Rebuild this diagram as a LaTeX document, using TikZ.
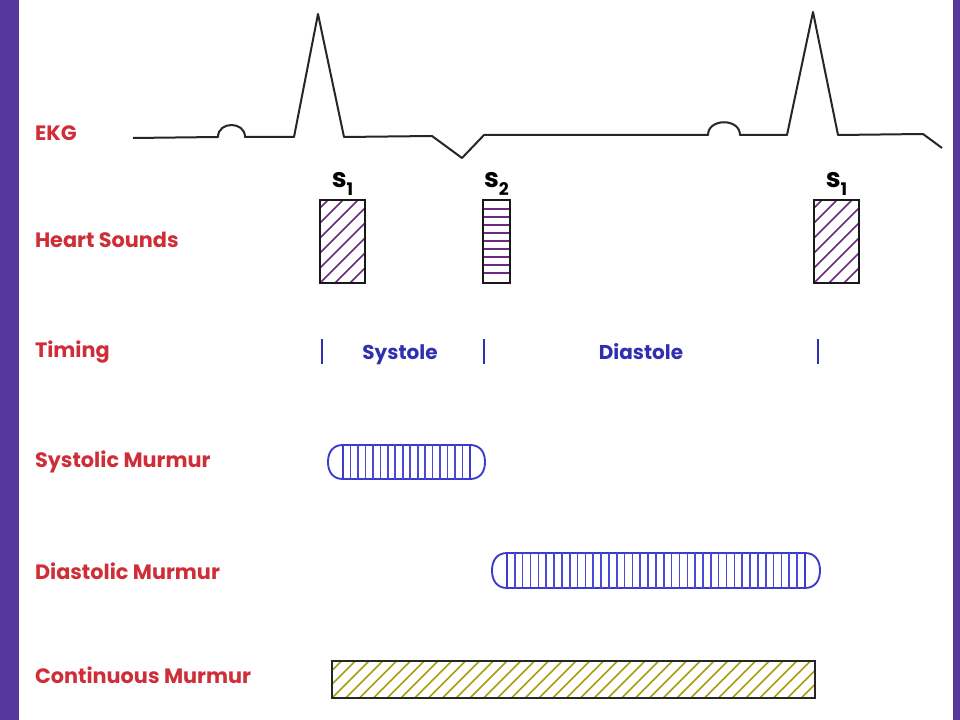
\documentclass[tikz,border=0pt]{standalone}
\usepackage{fontspec}
\setmainfont{Poppins}
\usetikzlibrary{positioning}
\usetikzlibrary{calc}
\definecolor{framepurple}{HTML}{55389C}
\definecolor{labelred}{HTML}{CF2E38}
\definecolor{phaseblue}{HTML}{2F2FB0}
\definecolor{murmblue}{HTML}{3B3BD0}
\definecolor{stripeblue}{HTML}{4A4AD4}
\definecolor{soundpurple}{HTML}{6A2A7E}
\definecolor{contyellow}{HTML}{A89E0C}
\tikzset{
	every node/.style={inner sep=0pt, outer sep=0pt, align=center},
	rowlabel/.style={anchor=base west, text=labelred, font=\fontsize{15.6}{15.6}\selectfont\bfseries},
	phase/.style={anchor=base, text=phaseblue, font=\fontsize{15}{15}\selectfont\bfseries},
	sname/.style={font=\fontsize{20}{20}\selectfont\bfseries, text=black},
	trace/.style={draw=black!85, line width=1.5pt, line join=round},
	sound/.style={draw=black!90, line width=1.1pt, minimum width=33.75pt, minimum height=62.25pt},
	hatch/.style={draw=soundpurple, line width=1.1pt},
	bar/.style={draw=soundpurple, line width=1.6pt},
	diag/.style={path picture={
		\foreach \k in {-6,...,3}
			\draw[hatch] ($(path picture bounding box.south west)+(\k*15,0)$) -- ++(100,-100);
	}},
	flat/.style={path picture={
		\foreach \k in {0,...,8}
			\draw[bar] ($(path picture bounding box.north west)+(0,9+\k*8)$) -- ++(40,0);
	}},
	tick/.style={draw=phaseblue, line width=1.4pt},
	murbody/.style={draw=murmblue, line width=1.4pt},
	murcap/.style={draw=murmblue, line width=1.4pt},
	stripe/.style={draw=stripeblue, line width=1.2pt},
	contbox/.style={draw=black!85, line width=1.2pt, path picture={
		\foreach \k in {-3,...,36}
			\draw[draw=contyellow, line width=1.2pt] ($(path picture bounding box.south west)+(\k*13.8,0)$) -- ++(50,-50);
	}}
}
\newcommand{\sublab}[1]{s\raisebox{-6pt}{\fontsize{13}{13}\selectfont #1}}
\begin{document}
\begin{tikzpicture}[x=0.75pt, y=-0.75pt]
	% page and side bars
	\useasboundingbox (0,0) rectangle (960,720);
	\fill[white] (0,0) rectangle (960,720);
	\fill[framepurple] (0,0) rectangle (19,720);
	\fill[framepurple] (953,0) rectangle (960,720);
	
	% row labels
	\node (lekg) [rowlabel] at (35,141) {EKG};
	\node (lhs) [rowlabel] at (35,248) {Heart Sounds};
	\node (ltim) [rowlabel] at (35,357) {Timing};
	\node (lsys) [rowlabel] at (35,467) {Systolic Murmur};
	\node (ldia) [rowlabel] at (35,579) {Diastolic Murmur};
	\node (lcon) [rowlabel] at (35,683) {Continuous Murmur};
	
	% EKG trace
	\draw[trace] (133,138) -- (218,137) .. controls (218,121) and (245,121) .. (245,137)
		-- (294,137) -- (318,14) -- (344,137) -- (432,136) -- (462,158) -- (484,135)
		-- (708,135) .. controls (708,118) and (740,118) .. (740,135)
		-- (787,135) -- (813,12) -- (838,135) -- (923,134) -- (942,148);
	
	% heart sounds
	\node (s1a) [sound, diag] at (342.5,241.5) {};
	\node (s2) [sound, flat, minimum width=20.25pt] at (496.5,241.5) {};
	\node (s1b) [sound, diag] at (836.5,241.5) {};
	\node (ts1a) [sname, above = 3pt of s1a] {\sublab{1}};
	\node (ts2) [sname, above = 3pt of s2] {\sublab{2}};
	\node (ts1b) [sname, above = 3pt of s1b] {\sublab{1}};
	
	% timing
	\foreach \tx in {322,484,818}
		\draw[tick] (\tx,339) -- (\tx,364);
	\node (tsys) [phase] at (400,359) {Systole};
	\node (tdia) [phase] at (641,359) {Diastole};
	
	% systolic murmur
	\node (sysm) [murbody, minimum width=95.25pt, minimum height=25.5pt] at (406.5,462) {};
	\foreach \k in {1,...,16}
		\draw[stripe] ($(sysm.north west)+(\k*7.47,0)$) -- ($(sysm.south west)+(\k*7.47,0)$);
	\draw[murcap] (sysm.north west) .. controls ($(sysm.north west)+(-10,0)$) and ($(sysm.west)+(-15,-10)$) .. ($(sysm.west)+(-15,0)$)
		.. controls ($(sysm.west)+(-15,10)$) and ($(sysm.south west)+(-10,0)$) .. (sysm.south west);
	\draw[murcap] (sysm.north east) .. controls ($(sysm.north east)+(10,0)$) and ($(sysm.east)+(15,-10)$) .. ($(sysm.east)+(15,0)$)
		.. controls ($(sysm.east)+(15,10)$) and ($(sysm.south east)+(10,0)$) .. (sysm.south east);
	
	% diastolic murmur
	\node (diam) [murbody, minimum width=223.5pt, minimum height=26.25pt] at (656,570.5) {};
	\foreach \k in {1,...,37}
		\draw[stripe] ($(diam.north west)+(\k*7.84,0)$) -- ($(diam.south west)+(\k*7.84,0)$);
	\draw[murcap] (diam.north west) .. controls ($(diam.north west)+(-10,0)$) and ($(diam.west)+(-15,-10)$) .. ($(diam.west)+(-15,0)$)
		.. controls ($(diam.west)+(-15,10)$) and ($(diam.south west)+(-10,0)$) .. (diam.south west);
	\draw[murcap] (diam.north east) .. controls ($(diam.north east)+(10,0)$) and ($(diam.east)+(15,-10)$) .. ($(diam.east)+(15,0)$)
		.. controls ($(diam.east)+(15,10)$) and ($(diam.south east)+(10,0)$) .. (diam.south east);
	
	% continuous murmur
	\node (conm) [contbox, minimum width=362.25pt, minimum height=27.75pt] at (573.5,679.5) {};
\end{tikzpicture}
\end{document}
